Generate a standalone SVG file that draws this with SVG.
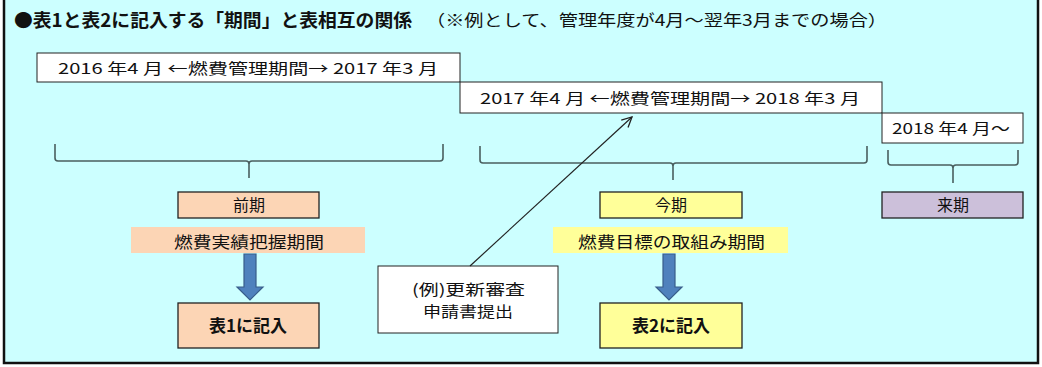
<svg xmlns="http://www.w3.org/2000/svg" width="1042" height="367" viewBox="0 0 1042 367">
<style>
text{font-family:"Noto Sans CJK JP","Noto Sans",sans-serif;fill:#111}
.box{stroke:#222;stroke-width:1.3}
.wbox{fill:#fff;stroke:#222;stroke-width:1}
.brace{fill:none;stroke:#4a5f5f;stroke-width:1.6}
.blue{fill:#4f81bd;stroke:#385d8a;stroke-width:1.2}
.t15{font-size:15px}
.t16{font-size:16px}
.b17{font-size:17px;font-weight:bold}
</style>
<defs>
<marker id="open" viewBox="0 0 12 12" refX="11" refY="6" markerWidth="12" markerHeight="12" markerUnits="userSpaceOnUse" orient="auto">
<path d="M1,1 L11,6 L1,11" fill="none" stroke="#222" stroke-width="1.3"/>
</marker>
</defs>
<rect x="0" y="0" width="1042" height="367" fill="#fff"/>
<rect x="4" y="-2" width="1034" height="365" fill="#ccffff" stroke="#111" stroke-width="2.5"/>
<g id="title">
<text x="14" y="27" style="font-size:18px;font-weight:bold" textLength="398" lengthAdjust="spacingAndGlyphs">●表1と表2に記入する「期間」と表相互の関係</text>
<text x="426" y="26" class="t16" textLength="461" lengthAdjust="spacingAndGlyphs">（※例として、管理年度が4月～翌年3月までの場合）</text>
</g>
<g id="period1">
<rect x="37" y="53" width="423" height="29" class="wbox"/>
<text x="58" y="74" class="t15" textLength="380" lengthAdjust="spacingAndGlyphs">2016 年4 月 ←燃費管理期間→ 2017 年3 月</text>
</g>
<g id="period2">
<rect x="460" y="82" width="422" height="31" class="wbox"/>
<text x="480" y="104" class="t15" textLength="380" lengthAdjust="spacingAndGlyphs">2017 年4 月 ←燃費管理期間→ 2018 年3 月</text>
</g>
<g id="period3">
<rect x="882" y="113" width="141" height="30" class="wbox"/>
<text x="892" y="134" class="t15" textLength="118" lengthAdjust="spacingAndGlyphs">2018 年4 月～</text>
</g>
<g id="braces">
<path class="brace" d="M55,144 V158 Q55,161 58,161 H246 Q249,161 249,164 V178 M249,164 Q249,161 252,161 H440 Q443,161 443,158 V144"/>
<path class="brace" d="M480,146 V160 Q480,163 483,163 H670 Q673,163 673,166 V180 M673,166 Q673,163 676,163 H864 Q867,163 867,160 V146"/>
<path class="brace" d="M888,150 V162 Q888,165 891,165 H950 Q953,165 953,168 V183 M953,168 Q953,165 956,165 H1015 Q1018,165 1018,162 V150"/>
</g>
<g id="zenki">
<rect x="178" y="192" width="141" height="26" fill="#fcd5b5" class="box"/>
<text x="249" y="211" class="t16" text-anchor="middle">前期</text>
</g>
<g id="konki">
<rect x="600" y="192" width="142" height="26" fill="#ffff99" class="box"/>
<text x="671" y="211" class="t16" text-anchor="middle">今期</text>
</g>
<g id="raiki">
<rect x="882" y="192" width="141" height="26" fill="#ccc0da" class="box"/>
<text x="953" y="211" class="t16" text-anchor="middle">来期</text>
</g>
<g id="band1">
<rect x="131" y="227" width="234" height="26" fill="#fcd5b5"/>
<text x="174" y="248" class="t16" textLength="150" lengthAdjust="spacingAndGlyphs">燃費実績把握期間</text>
</g>
<g id="band2">
<rect x="553" y="227" width="235" height="26" fill="#ffff99"/>
<text x="578" y="248" class="t16" textLength="187" lengthAdjust="spacingAndGlyphs">燃費目標の取組み期間</text>
</g>
<g id="arrow1">
<polygon class="blue" points="244,254 256,254 256,287 263,287 250,300 237,287 244,287"/>
</g>
<g id="arrow2">
<polygon class="blue" points="663,254 675,254 675,287 682,287 669,300 656,287 663,287"/>
</g>
<g id="table1">
<rect x="178" y="303" width="141" height="45" fill="#fcd5b5" class="box"/>
<text x="248" y="332" class="b17" text-anchor="middle">表1に記入</text>
</g>
<g id="table2">
<rect x="600" y="303" width="142" height="45" fill="#ffff99" class="box"/>
<text x="671" y="332" class="b17" text-anchor="middle">表2に記入</text>
</g>
<g id="example">
<rect x="378" y="266" width="180" height="67" class="wbox"/>
<text x="412" y="295" class="t15" textLength="113" lengthAdjust="spacingAndGlyphs">(例)更新審査</text>
<text x="423" y="317" class="t15" textLength="90" lengthAdjust="spacingAndGlyphs">申請書提出</text>
</g>
<g id="connectors">
<line x1="470" y1="266" x2="632" y2="117" stroke="#222" stroke-width="1.2" marker-end="url(#open)"/>
</g>
</svg>
